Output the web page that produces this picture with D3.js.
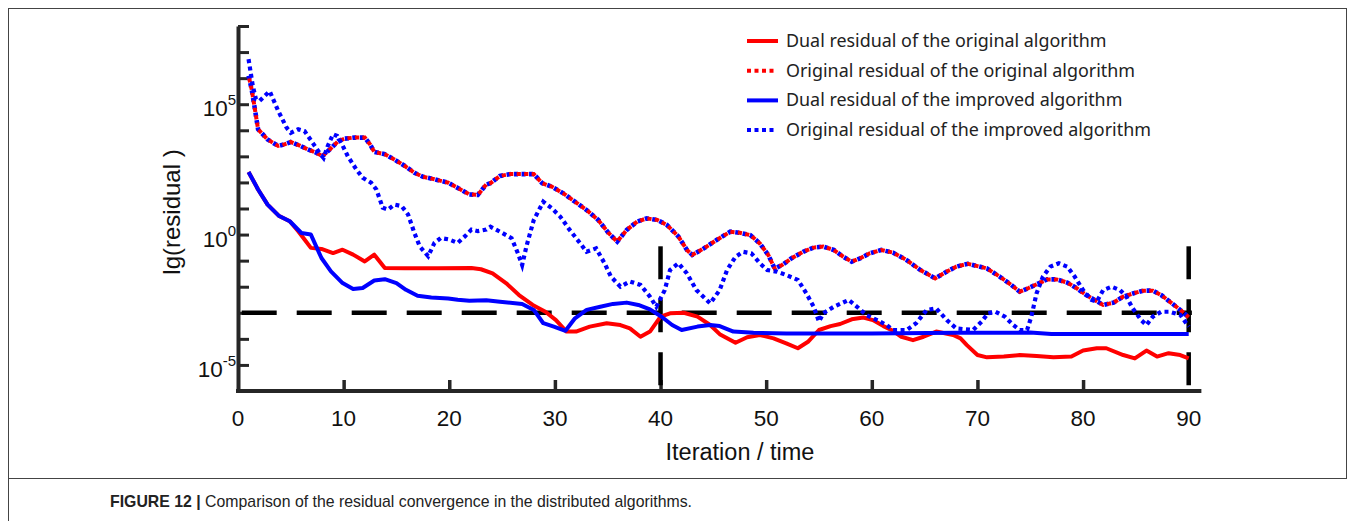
<!DOCTYPE html>
<html><head><meta charset="utf-8">
<script src="https://cdn.jsdelivr.net/npm/d3@7"></script>
<style>body{margin:0;background:#fff}</style>
</head><body>
<svg id="c" width="1355" height="521"></svg>
<script>
// ---------------- data (values are lg(residual)) ----------------
const iterationTicks = [0, 10, 20, 30, 40, 50, 60, 70, 80, 90];
const decadeTicks = [-6, -5, -4, -3, -2, -1, 0, 1, 2, 3, 4, 5, 6, 7, 8];
const labeledDecades = [-5, 0, 5];
const thresholdLg = -3;
const markIterations = [40, 90];
const markTopLg = -0.45;

const seriesNames = [
  "Dual residual of the original algorithm",
  "Original residual of the original algorithm",
  "Dual residual of the improved algorithm",
  "Original residual of the improved algorithm"
];

const dualOriginal = [[1,2.4],[1.9,1.73],[2.8,1.15],[3.9,0.71],[4.9,0.51],[5.7,0.13],[6.3,-0.19],[6.9,-0.51],[7.9,-0.55],[9,-0.71],[9.9,-0.58],[10.9,-0.77],[12,-1.03],[12.9,-0.77],[13.9,-1.28],[15.8,-1.29],[18.9,-1.29],[22.1,-1.28],[23,-1.33],[24.1,-1.49],[25.4,-1.87],[26.6,-2.32],[27.9,-2.7],[29.1,-2.96],[30.1,-3.28],[31.1,-3.72],[32,-3.72],[33.3,-3.53],[34.9,-3.4],[36.2,-3.47],[37.1,-3.6],[38.1,-3.92],[39,-3.72],[40,-3.15],[40.9,-3.02],[42.2,-3],[43.5,-3.15],[44.7,-3.47],[45.6,-3.82],[47.1,-4.15],[48.2,-3.94],[49.4,-3.85],[50.7,-3.98],[51.9,-4.17],[53,-4.36],[54,-4.1],[55,-3.66],[56.1,-3.51],[57,-3.43],[58.1,-3.25],[59.2,-3.18],[60.1,-3.28],[61.1,-3.51],[62,-3.69],[62.8,-3.92],[63.9,-4.05],[64.9,-3.92],[66.1,-3.72],[67.7,-3.85],[68.4,-3.98],[69,-4.24],[70,-4.62],[70.9,-4.71],[72.5,-4.68],[74,-4.62],[75.6,-4.66],[77.2,-4.71],[78.9,-4.68],[80,-4.45],[81.3,-4.36],[82.2,-4.36],[83.8,-4.62],[84.9,-4.75],[86,-4.45],[87,-4.68],[88.1,-4.55],[89.2,-4.62],[90,-4.75]];

const originalOriginal = [[1,6.09],[1.3,5.56],[1.6,4.81],[1.9,4.04],[2.8,3.65],[3.8,3.4],[4.4,3.46],[5,3.55],[5.8,3.42],[6.6,3.27],[7.4,3.14],[8,3.01],[8.7,3.27],[9.5,3.59],[10.1,3.68],[11,3.72],[12,3.72],[12.5,3.46],[12.9,3.17],[13.9,3.08],[14.8,2.88],[15.8,2.63],[16.7,2.37],[17.5,2.22],[18.6,2.12],[19.9,1.99],[20.8,1.79],[21.9,1.54],[22.7,1.52],[23.5,1.92],[23.9,1.97],[24.8,2.25],[25.8,2.32],[27.1,2.32],[28,2.32],[28.8,1.97],[29.7,1.84],[30.8,1.58],[31.9,1.26],[33,0.94],[34.1,0.56],[35.1,0.05],[35.9,-0.27],[36.8,0.18],[37.8,0.5],[38.7,0.62],[39.7,0.56],[40.6,0.37],[41.7,-0.08],[42.5,-0.59],[43,-0.78],[44.1,-0.53],[45.3,-0.21],[46.6,0.11],[47.5,0.07],[48.5,-0.02],[49.4,-0.34],[50.2,-0.78],[50.8,-1.3],[51.5,-1.17],[52.4,-0.91],[53.5,-0.66],[54.5,-0.5],[55.4,-0.46],[56.4,-0.59],[57.3,-0.85],[58.1,-1.04],[58.9,-0.91],[59.8,-0.72],[60.9,-0.59],[62,-0.69],[63.3,-0.98],[64.6,-1.36],[66,-1.68],[67.1,-1.42],[68,-1.23],[69.1,-1.12],[70.9,-1.3],[72.1,-1.61],[73.2,-1.93],[74,-2.19],[74.8,-2.06],[75.8,-1.87],[76.6,-1.72],[77.5,-1.72],[78.5,-1.84],[79.4,-2.06],[80.3,-2.32],[81.1,-2.51],[81.9,-2.7],[82.9,-2.61],[83.8,-2.38],[84.8,-2.25],[85.7,-2.15],[86.6,-2.15],[87.4,-2.32],[88.2,-2.57],[89.2,-2.89],[90,-3.17]];

const dualImproved = [[1,2.4],[1.9,1.73],[2.8,1.15],[3.9,0.71],[4.9,0.51],[6,0.06],[6.9,0],[7.9,-0.9],[8.8,-1.41],[9.9,-1.86],[10.9,-2.09],[11.8,-2.05],[12.9,-1.76],[13.9,-1.71],[15,-1.86],[15.9,-2.12],[17,-2.35],[18.3,-2.41],[19.9,-2.45],[20.8,-2.5],[21.9,-2.54],[23.5,-2.52],[24.8,-2.58],[26.9,-2.66],[28,-2.89],[28.9,-3.4],[29.9,-3.53],[31,-3.69],[31.9,-3.21],[33,-2.89],[34.3,-2.77],[35.5,-2.66],[36.8,-2.61],[37.9,-2.7],[39,-2.87],[40.1,-3.15],[41.1,-3.47],[42,-3.66],[43.5,-3.53],[44.7,-3.47],[45.6,-3.51],[46.9,-3.72],[48.8,-3.77],[51.9,-3.79],[60,-3.79],[68,-3.77],[75,-3.76],[77,-3.81],[90,-3.81]];

const originalImproved = [[1,6.73],[1.4,5.7],[1.7,5.19],[2.05,5.13],[3,5.5],[3.8,4.75],[4.6,4.1],[5,3.9],[5.7,4.04],[6.3,3.97],[7.1,3.5],[7.7,3.14],[8.1,2.94],[8.5,3.4],[9,3.85],[9.4,3.78],[9.8,3.5],[10.4,3.0],[11.2,2.5],[11.8,2.18],[12.6,1.99],[13.1,1.73],[13.7,1.03],[14.2,0.96],[14.8,1.15],[15.5,1.09],[16.1,0.77],[16.7,0.06],[17.2,-0.45],[18,-0.83],[18.6,-0.32],[19.2,-0.13],[20,-0.19],[20.8,-0.32],[21.5,-0.06],[22.1,0.19],[22.7,0.13],[23.5,0.19],[23.9,0.3],[24.8,0.11],[25.9,-0.14],[26.5,-0.72],[26.9,-1.17],[27.3,-0.46],[28,0.56],[28.9,1.26],[29.7,1.01],[30.5,0.69],[31.4,0.18],[32.4,-0.34],[33,-0.66],[33.9,-0.53],[34.7,-1.1],[35.3,-1.61],[36.2,-2.0],[37.1,-1.8],[38.1,-1.93],[39,-2.38],[39.6,-2.77],[40.4,-2.13],[40.9,-1.36],[41.7,-1.1],[42.5,-1.49],[43.4,-2.13],[44.7,-2.64],[45.6,-2.13],[46.3,-1.36],[47.1,-0.85],[47.8,-0.66],[48.6,-0.72],[49.4,-1.1],[50.1,-1.36],[51,-1.42],[51.9,-1.55],[53,-1.74],[53.8,-2.25],[54.5,-2.77],[55,-3.34],[55.4,-3.02],[56.4,-2.77],[57.8,-2.51],[58.6,-2.77],[59.5,-3.09],[60.5,-3.28],[61.4,-3.47],[62,-3.66],[63.3,-3.66],[64.2,-3.4],[65.2,-2.89],[66.1,-2.83],[67.1,-3.28],[68,-3.6],[69.6,-3.66],[70.4,-3.34],[71,-3.02],[71.7,-2.96],[72.6,-3.15],[73.4,-3.47],[74,-3.66],[74.7,-3.66],[75.1,-3.15],[75.6,-2.25],[76.2,-1.61],[76.9,-1.23],[77.7,-1.1],[78.5,-1.23],[79.2,-1.61],[80,-2.13],[80.8,-2.51],[81.3,-2.57],[81.9,-2.13],[82.7,-2.0],[83.5,-2.13],[84.1,-2.38],[84.7,-2.83],[85.5,-3.28],[86,-3.47],[86.6,-3.15],[87.4,-2.96],[88.2,-2.96],[89.2,-3.08],[90,-3.53]];

// ---------------- drawing ----------------
const svg = d3.select("#c");
svg.append("rect").attr("width",1355).attr("height",521).attr("fill","#fff");

// figure frame
svg.append("rect").attr("x",8.5).attr("y",8.5).attr("width",1338).attr("height",470)
  .attr("fill","none").attr("stroke","#444").attr("stroke-width",1);
svg.append("line").attr("x1",8.5).attr("x2",8.5).attr("y1",478).attr("y2",521)
  .attr("stroke","#444").attr("stroke-width",1);

const x = d3.scaleLinear().domain([0, 90]).range([238, 1188.7]);
const y = d3.scaleLog().domain([1e-6, 1e8]).range([391, 26]);
const yv = lg => y(Math.pow(10, lg));
const axisColor = "#262626";
const tickFont = "'Liberation Sans', Arial, sans-serif";

const g = svg.append("g");

// y axis (inward ticks)
const yAxis = d3.axisRight(y).tickValues(decadeTicks.map(k => Math.pow(10, k)))
  .tickSize(11).tickSizeOuter(0).tickFormat("");
const ya = g.append("g").attr("transform","translate(238,0)").call(yAxis);
ya.select(".domain").attr("stroke", axisColor).attr("stroke-width", 4);
ya.selectAll(".tick line").attr("stroke", axisColor).attr("stroke-width", 3);

// x axis (inward ticks)
const xAxis = d3.axisTop(x).tickValues(iterationTicks.slice(1, -1))
  .tickSize(11).tickSizeOuter(0).tickFormat("");
const xa = g.append("g").attr("transform","translate(0,391)").call(xAxis);
xa.select(".domain").remove();
xa.selectAll(".tick line").attr("stroke", axisColor).attr("stroke-width", 3.5);
g.append("line").attr("x1", x(0) - 2).attr("x2", x(91.2)).attr("y1", 391).attr("y2", 391)
  .attr("stroke", axisColor).attr("stroke-width", 4);

// tick labels
g.selectAll(".xl").data(iterationTicks).join("text").attr("class","xl")
  .attr("x", d => x(d)).attr("y", 426).attr("text-anchor","middle")
  .attr("font-family", tickFont).attr("font-size", 22.5).attr("fill","#111")
  .text(d => d);

const yl = g.selectAll(".yl").data(labeledDecades).join("text").attr("class","yl")
  .attr("x", 236).attr("y", d => yv(d) + 12).attr("text-anchor","end")
  .attr("font-family", tickFont).attr("fill","#111");
yl.append("tspan").attr("font-size", 22.5).text("10");
yl.append("tspan").attr("font-size", 15).attr("dy", -11).text(d => d < 0 ? "-" + (-d) : String(d));

// axis titles
g.append("text").attr("x", 740).attr("y", 460).attr("text-anchor","middle")
  .attr("font-family", tickFont).attr("font-size", 23.5).attr("fill","#111")
  .text("Iteration / time");
g.append("text").attr("transform","translate(180,212) rotate(-90)").attr("text-anchor","middle")
  .attr("font-family", tickFont).attr("font-size", 24).attr("fill","#111")
  .text("lg(residual )");

// reference dashed lines
const black = "#000";
g.append("line").attr("x1", x(0)).attr("x2", x(90.3))
  .attr("y1", yv(thresholdLg)).attr("y2", yv(thresholdLg))
  .attr("stroke", black).attr("stroke-width", 4.5)
  .attr("stroke-dasharray","35,20").attr("stroke-dashoffset", -3.7);
g.selectAll(".vmark").data(markIterations).join("line").attr("class","vmark")
  .attr("x1", d => x(d)).attr("x2", d => x(d))
  .attr("y1", yv(markTopLg)).attr("y2", 391)
  .attr("stroke", black).attr("stroke-width", 4.5)
  .attr("stroke-dasharray","33,20");

// series
const line = d3.line().x(d => x(d[0])).y(d => yv(d[1]));
const red = "#ff0000", blue = "#0000ff";

g.append("path").datum(dualOriginal).attr("d", line)
  .attr("fill","none").attr("stroke", red).attr("stroke-width", 4).attr("stroke-linejoin","round");
g.append("path").datum(dualImproved).attr("d", line)
  .attr("fill","none").attr("stroke", blue).attr("stroke-width", 4).attr("stroke-linejoin","round");
// original residual of the original algorithm: red dots over a blue dotted edge
g.append("path").datum(originalOriginal).attr("d", line)
  .attr("fill","none").attr("stroke", blue).attr("stroke-width", 4.6)
  .attr("stroke-dasharray","4,3.5");
g.append("path").datum(originalOriginal).attr("d", line)
  .attr("fill","none").attr("stroke", red).attr("stroke-width", 4)
  .attr("stroke-dasharray","4.2,3.3").attr("stroke-dashoffset", -2.6);
g.append("path").datum(originalImproved).attr("d", line)
  .attr("fill","none").attr("stroke", blue).attr("stroke-width", 4.2)
  .attr("stroke-dasharray","4,3.5");

// legend
const legendFont = "'Noto Sans', 'Open Sans', sans-serif";
const legendStyles = [
  {color: red, dash: null},
  {color: red, dash: "4,3.5"},
  {color: blue, dash: null},
  {color: blue, dash: "4,3.5"}
];
const lg = svg.append("g");
const rows = lg.selectAll("g").data(seriesNames).join("g")
  .attr("transform", (d, i) => `translate(747,${41 + i * 29.7})`);
rows.append("line").attr("x1", 0).attr("x2", (d,i) => legendStyles[i].dash ? 28 : 31)
  .attr("y1", 0).attr("y2", 0)
  .attr("stroke", (d, i) => legendStyles[i].color).attr("stroke-width", 4)
  .attr("stroke-dasharray", (d, i) => legendStyles[i].dash);
rows.append("text").attr("x", 39).attr("y", 6).attr("font-family", legendFont)
  .attr("font-size", 17.9).attr("fill", "#222").text(d => d);

// caption
const cap = svg.append("text").attr("x", 110).attr("y", 507)
  .attr("font-family", "'Liberation Sans', Arial, sans-serif")
  .attr("font-size", 17).attr("fill", "#222")
  .attr("textLength", 582).attr("lengthAdjust", "spacingAndGlyphs");
cap.append("tspan").attr("font-weight","bold").text("FIGURE 12 | ");
cap.append("tspan").text("Comparison of the residual convergence in the distributed algorithms.");
</script>
</body></html>
